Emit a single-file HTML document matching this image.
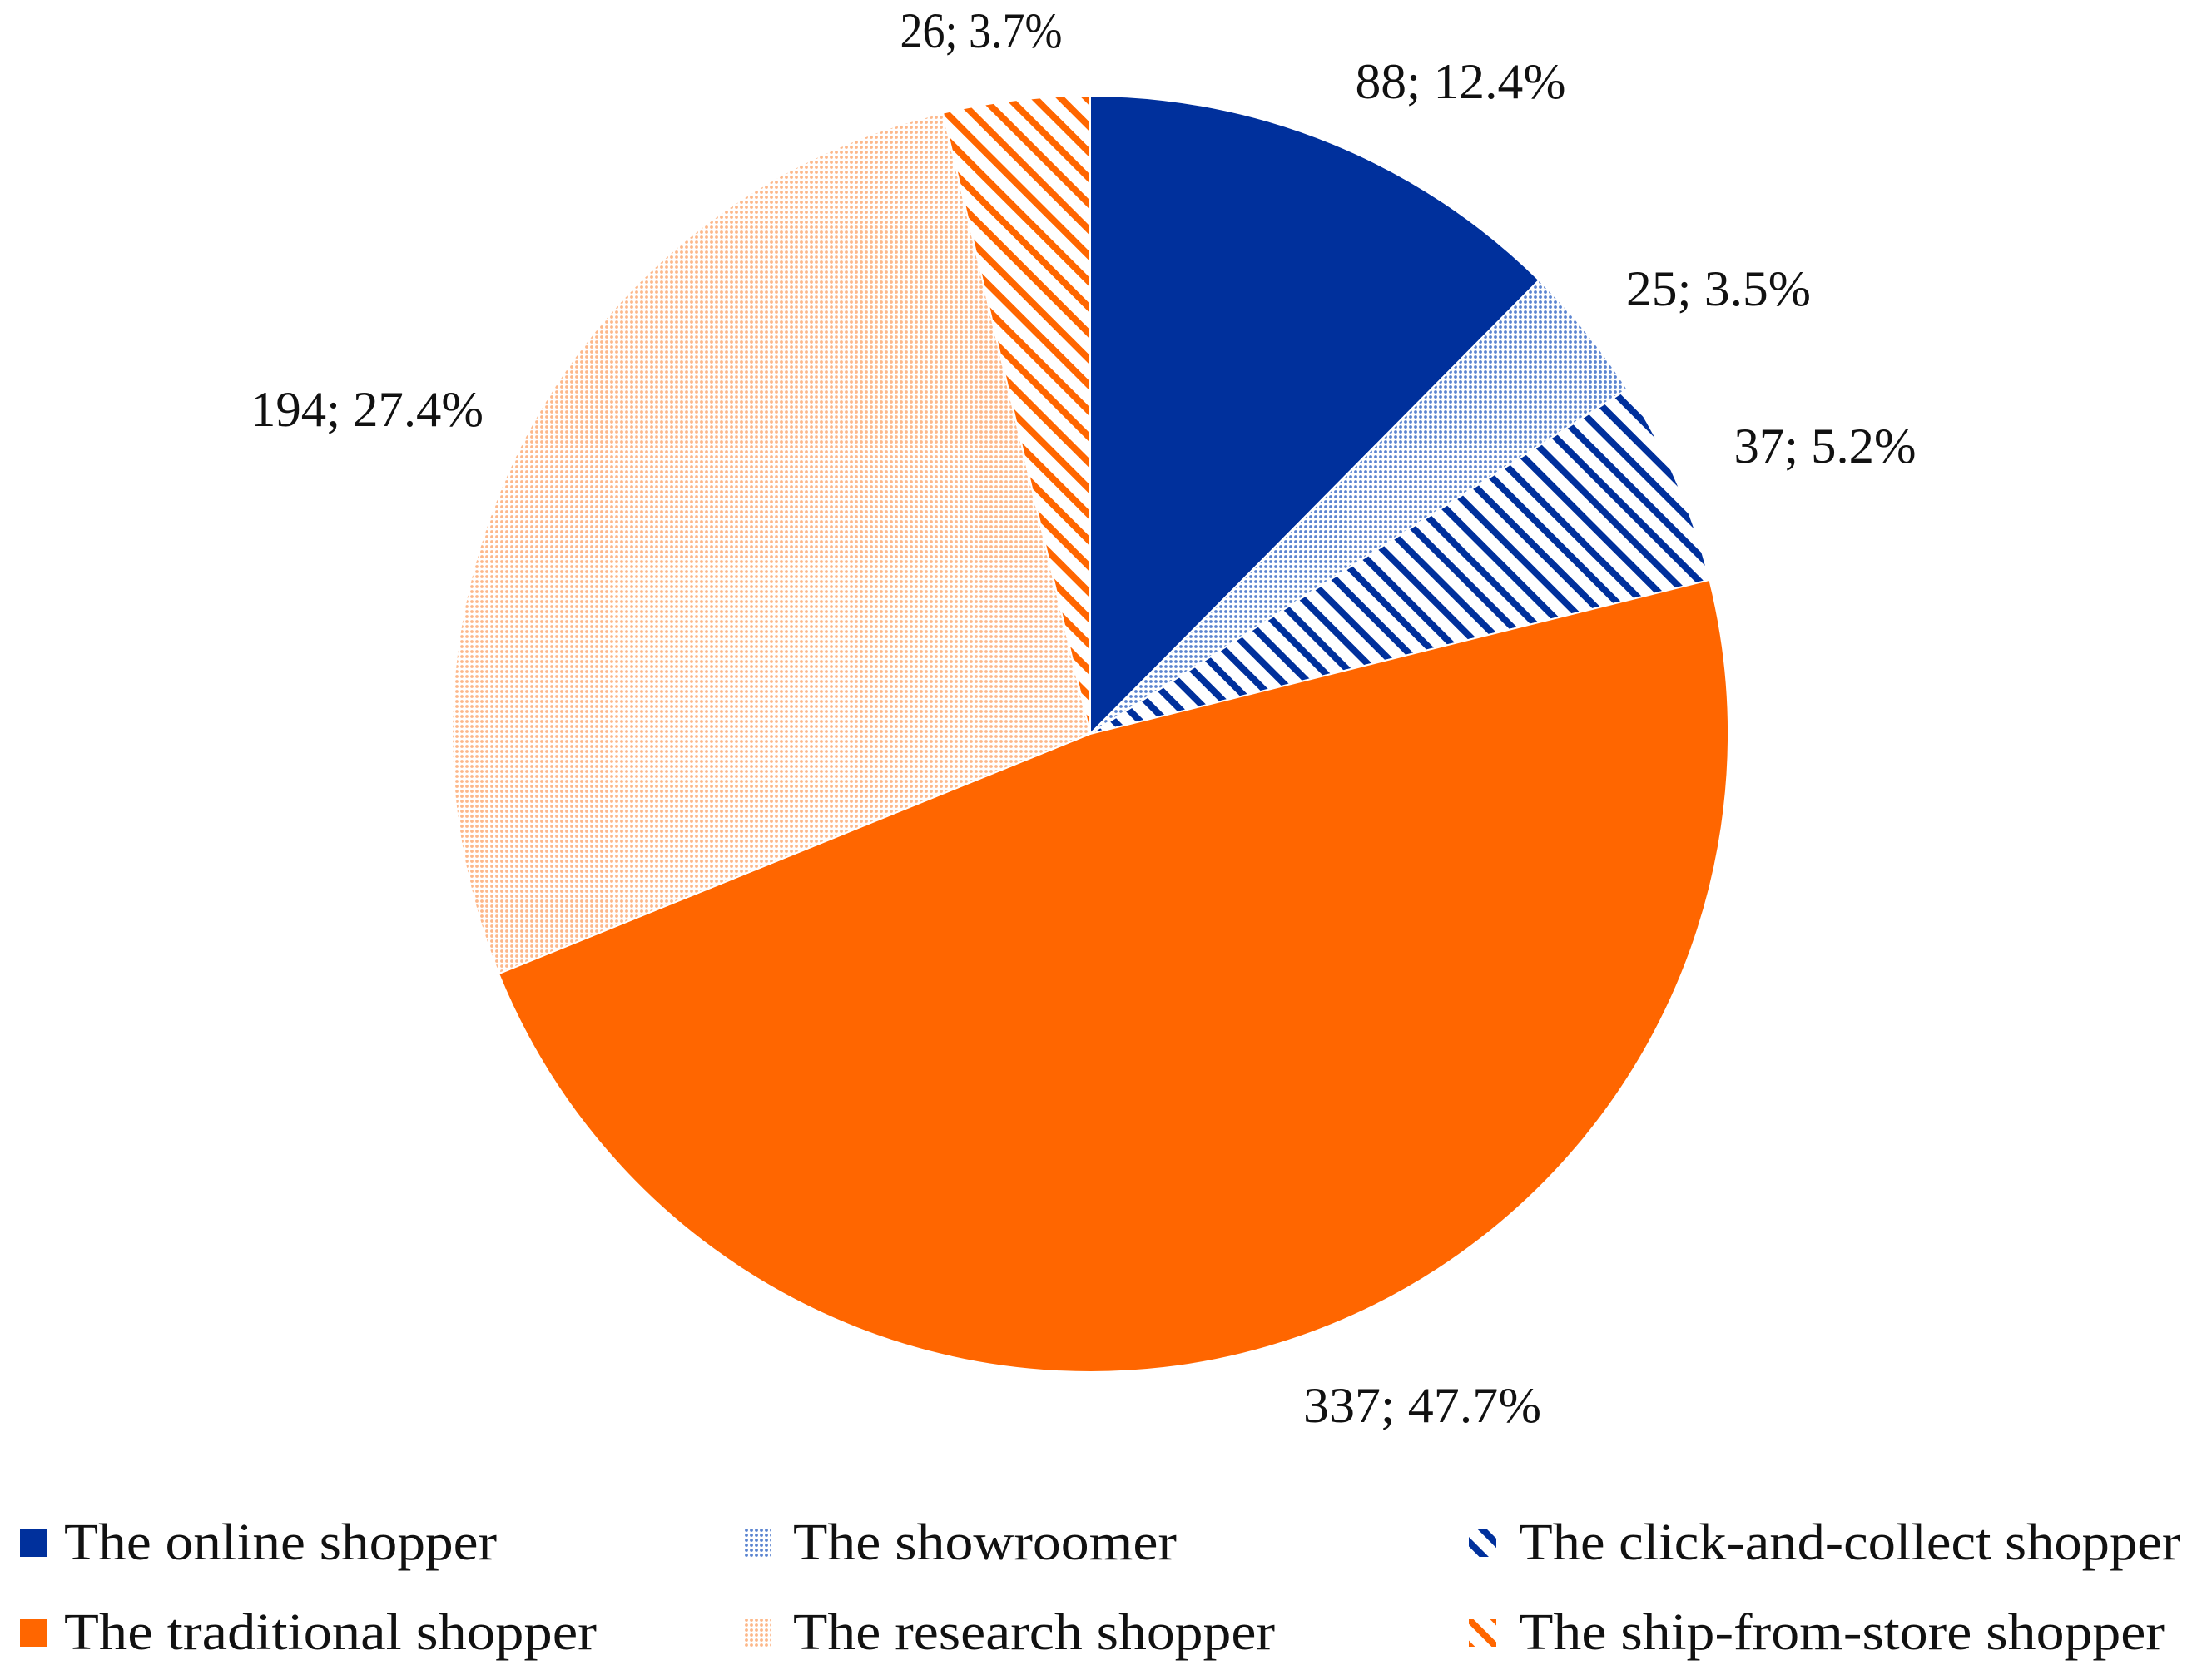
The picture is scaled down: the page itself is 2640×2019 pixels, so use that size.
<!DOCTYPE html>
<html><head><meta charset="utf-8"><style>html,body{margin:0;padding:0;background:#fff}svg{display:block}</style></head>
<body>
<svg width="2640" height="2019" viewBox="0 0 2640 2019" xmlns="http://www.w3.org/2000/svg">
<defs>
<pattern id="dotB" width="6" height="6" patternUnits="userSpaceOnUse"><rect width="6" height="6" fill="#fff"/><circle cx="3" cy="3" r="1.9" fill="#5b84d0"/></pattern>
<pattern id="dotO" width="6" height="6" patternUnits="userSpaceOnUse"><rect width="6" height="6" fill="#fff"/><circle cx="3" cy="3" r="1.9" fill="#fdb88a"/></pattern>
<pattern id="strB" width="22" height="22" patternUnits="userSpaceOnUse" patternTransform="rotate(-45)"><rect width="22" height="22" fill="#fff"/><rect width="8" height="22" fill="#00309c"/></pattern>
<pattern id="strO" width="22" height="22" patternUnits="userSpaceOnUse" patternTransform="rotate(-45)"><rect width="22" height="22" fill="#fff"/><rect width="8" height="22" fill="#ff6600"/></pattern>
</defs>
<g id="pie"></g>
<g font-family="'Liberation Serif', serif" font-size="60" fill="#111" text-anchor="middle">
<text x="1179" y="57" textLength="195" lengthAdjust="spacingAndGlyphs">26; 3.7%</text>
<text x="1755" y="118" textLength="253" lengthAdjust="spacingAndGlyphs">88; 12.4%</text>
<text x="2065" y="367" textLength="222" lengthAdjust="spacingAndGlyphs">25; 3.5%</text>
<text x="2193" y="556" textLength="219" lengthAdjust="spacingAndGlyphs">37; 5.2%</text>
<text x="441" y="512" textLength="280" lengthAdjust="spacingAndGlyphs">194; 27.4%</text>
<text x="1709" y="1709" textLength="286" lengthAdjust="spacingAndGlyphs">337; 47.7%</text>
</g>
<g>
<rect x="24" y="1838" width="33" height="33" fill="#00309c"/>
<rect x="893" y="1838" width="33" height="33" fill="url(#dotB)"/>
<rect x="1765" y="1838" width="33" height="33" fill="url(#strB)"/>
<rect x="24" y="1946" width="33" height="33" fill="#ff6600"/>
<rect x="893" y="1946" width="33" height="33" fill="url(#dotO)"/>
<rect x="1765" y="1946" width="33" height="33" fill="url(#strO)"/>
</g>
<g font-family="'Liberation Serif', serif" font-size="62" fill="#111">
<text x="77" y="1874" textLength="520" lengthAdjust="spacingAndGlyphs">The online shopper</text>
<text x="953" y="1874" textLength="461" lengthAdjust="spacingAndGlyphs">The showroomer</text>
<text x="1825" y="1874" textLength="795" lengthAdjust="spacingAndGlyphs">The click-and-collect shopper</text>
<text x="77" y="1982" textLength="640" lengthAdjust="spacingAndGlyphs">The traditional shopper</text>
<text x="953" y="1982" textLength="579" lengthAdjust="spacingAndGlyphs">The research shopper</text>
<text x="1825" y="1982" textLength="776" lengthAdjust="spacingAndGlyphs">The ship-from-store shopper</text>
</g>
<script>
(function(){
var cx=1310,cy=882,r=767;
var d=[[12.4,'#00309c'],[3.5,'url(#dotB)'],[5.2,'url(#strB)'],[47.7,'#ff6600'],[27.4,'url(#dotO)'],[3.7,'url(#strO)']];
var tot=0;d.forEach(function(s){tot+=s[0]});
var a=0,g=document.getElementById('pie'),ns='http://www.w3.org/2000/svg';
d.forEach(function(s){
var a2=a+s[0]/tot*2*Math.PI;
var x1=cx+r*Math.sin(a),y1=cy-r*Math.cos(a),x2=cx+r*Math.sin(a2),y2=cy-r*Math.cos(a2);
var p=document.createElementNS(ns,'path');
p.setAttribute('d','M'+cx+','+cy+'L'+x1+','+y1+'A'+r+','+r+' 0 '+((a2-a)>Math.PI?1:0)+' 1 '+x2+','+y2+'Z');
p.setAttribute('fill',s[1]);p.setAttribute('stroke','#fff');p.setAttribute('stroke-width','2');
g.appendChild(p);a=a2;});
})();
</script>
</svg>
</body></html>
